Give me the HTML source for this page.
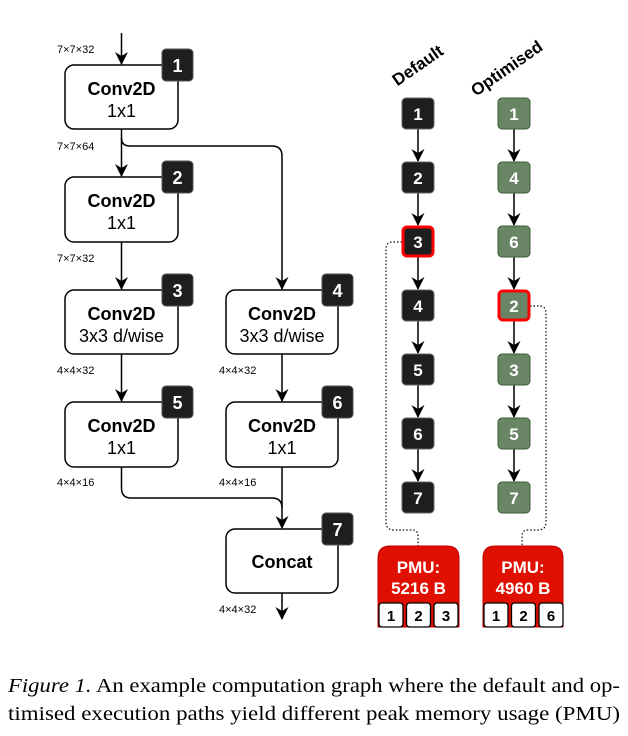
<!DOCTYPE html>
<html><head><meta charset="utf-8"><style>
html,body{margin:0;padding:0;background:#fff;width:628px;height:736px;overflow:hidden}
svg{display:block}
.h{font-family:"Liberation Sans",Arial,sans-serif}
</style></head><body>
<svg width="628" height="736" viewBox="0 0 628 736" xmlns="http://www.w3.org/2000/svg">
<defs>
<marker id="a" markerWidth="14" markerHeight="14" refX="12" refY="6.5" orient="auto" markerUnits="userSpaceOnUse">
<path d="M0,0 L13,6.5 L0,13 L4,6.5 Z" fill="#000"/></marker>
</defs>
<g fill="none" stroke="#000" stroke-width="1.5">
<path d="M121.5,33 V64" marker-end="url(#a)"/>
<path d="M121.5,129 V176" marker-end="url(#a)"/>
<path d="M121.5,138 Q121.5,146 130,146 H272 Q282,146 282,156 V289" marker-end="url(#a)"/>
<path d="M121.5,242 V289" marker-end="url(#a)"/>
<path d="M121.5,354 V401" marker-end="url(#a)"/>
<path d="M282,354 V401" marker-end="url(#a)"/>
<path d="M121.5,467 V488 Q121.5,498 131,498 H272 Q282,498 282,508"/>
<path d="M282,467 V528" marker-end="url(#a)"/>
<path d="M282,593 V619" marker-end="url(#a)"/>
<path d="M418,129 V161" marker-end="url(#a)"/>
<path d="M418,193 V225" marker-end="url(#a)"/>
<path d="M418,257 V289" marker-end="url(#a)"/>
<path d="M418,321 V353" marker-end="url(#a)"/>
<path d="M418,385 V417" marker-end="url(#a)"/>
<path d="M418,449 V481" marker-end="url(#a)"/>
<path d="M514,129 V161" marker-end="url(#a)"/>
<path d="M514,193 V225" marker-end="url(#a)"/>
<path d="M514,257 V289" marker-end="url(#a)"/>
<path d="M514,321 V353" marker-end="url(#a)"/>
<path d="M514,385 V417" marker-end="url(#a)"/>
<path d="M514,449 V481" marker-end="url(#a)"/>
</g>
<g fill="none" stroke="#000" stroke-width="1.2" stroke-dasharray="1.5,2">
<path d="M402,242 H392 Q386,242 386,250 V522 Q386,530 394,530 H412 Q418,530 418,536 V546"/>
<path d="M530,306 H540 Q546,306 546,314 V522 Q546,530 538,530 H528 Q522,530 522,536 V546"/>
</g>
<g fill="#fff" stroke="#000" stroke-width="1.5">
<rect x="65" y="65" width="113" height="64" rx="9"/>
<rect x="65" y="177" width="113" height="65" rx="9"/>
<rect x="65" y="290" width="113" height="64" rx="9"/>
<rect x="65" y="402" width="113" height="65" rx="9"/>
<rect x="226" y="290" width="112" height="64" rx="9"/>
<rect x="226" y="402" width="112" height="65" rx="9"/>
<rect x="226" y="529" width="112" height="64" rx="9"/>
</g>
<g fill="#1e1e1e" stroke="#555" stroke-width="1">
<rect x="162" y="49" width="31" height="32" rx="4"/>
<rect x="162" y="161" width="31" height="32" rx="4"/>
<rect x="162" y="274" width="31" height="32" rx="4"/>
<rect x="162" y="386" width="31" height="32" rx="4"/>
<rect x="322" y="274" width="31" height="32" rx="4"/>
<rect x="322" y="386" width="31" height="32" rx="4"/>
<rect x="322" y="513" width="31" height="32" rx="4"/>
</g>
<g class="h" fill="#fff" font-size="18" font-weight="bold" text-anchor="middle">
<text x="177.5" y="72">1</text><text x="177.5" y="184">2</text><text x="177.5" y="297">3</text>
<text x="177.5" y="409">5</text><text x="337.5" y="297">4</text><text x="337.5" y="409">6</text><text x="337.5" y="536">7</text>
</g>
<g class="h" fill="#000" font-size="18" text-anchor="middle">
<text x="121.5" y="95" font-weight="bold">Conv2D</text><text x="121.5" y="117">1x1</text>
<text x="121.5" y="207" font-weight="bold">Conv2D</text><text x="121.5" y="229">1x1</text>
<text x="121.5" y="320" font-weight="bold">Conv2D</text><text x="121.5" y="342">3x3 d/wise</text>
<text x="121.5" y="432" font-weight="bold">Conv2D</text><text x="121.5" y="454">1x1</text>
<text x="282" y="320" font-weight="bold">Conv2D</text><text x="282" y="342">3x3 d/wise</text>
<text x="282" y="432" font-weight="bold">Conv2D</text><text x="282" y="454">1x1</text>
<text x="282" y="568" font-weight="bold">Concat</text>
</g>
<g class="h" fill="#000" font-size="11">
<text x="57" y="53">7×7×32</text><text x="57" y="150">7×7×64</text><text x="57" y="262">7×7×32</text>
<text x="57" y="374">4×4×32</text><text x="57" y="486">4×4×16</text>
<text x="219" y="374">4×4×32</text><text x="219" y="486">4×4×16</text><text x="219" y="613">4×4×32</text>
</g>
<g class="h" font-size="17" font-weight="bold" fill="#000" text-anchor="middle">
<text transform="translate(421,70) rotate(-35)">Default</text>
<text transform="translate(510,73) rotate(-35)">Optimised</text>
</g>
<g fill="#1e1e1e" stroke="#666" stroke-width="1">
<rect x="402" y="98" width="32" height="31" rx="4"/>
<rect x="402" y="162" width="32" height="31" rx="4"/>
<rect x="402" y="290" width="32" height="31" rx="4"/>
<rect x="402" y="354" width="32" height="31" rx="4"/>
<rect x="402" y="418" width="32" height="31" rx="4"/>
<rect x="402" y="482" width="32" height="31" rx="4"/>
</g>
<rect x="403" y="227" width="30" height="29" rx="4" fill="#1e1e1e" stroke="#f00" stroke-width="3"/>
<g fill="#6a8566" stroke="#3e5a3a" stroke-width="1">
<rect x="498" y="98" width="32" height="31" rx="4"/>
<rect x="498" y="162" width="32" height="31" rx="4"/>
<rect x="498" y="226" width="32" height="31" rx="4"/>
<rect x="498" y="354" width="32" height="31" rx="4"/>
<rect x="498" y="418" width="32" height="31" rx="4"/>
<rect x="498" y="482" width="32" height="31" rx="4"/>
</g>
<rect x="499" y="291" width="30" height="29" rx="4" fill="#6a8566" stroke="#f00" stroke-width="3"/>
<g class="h" fill="#fff" font-size="17" font-weight="bold" text-anchor="middle">
<text x="418" y="120">1</text><text x="418" y="184">2</text><text x="418" y="248">3</text><text x="418" y="312">4</text>
<text x="418" y="376">5</text><text x="418" y="440">6</text><text x="418" y="504">7</text>
<text x="514" y="120">1</text><text x="514" y="184">4</text><text x="514" y="248">6</text><text x="514" y="312">2</text>
<text x="514" y="376">3</text><text x="514" y="440">5</text><text x="514" y="504">7</text>
</g>
<g fill="#e01000" stroke="#b00" stroke-width="1">
<path d="M378,627 V558 Q378,546 390,546 H447 Q459,546 459,558 V627 Z"/>
<path d="M483,627 V558 Q483,546 495,546 H551 Q563,546 563,558 V627 Z"/>
</g>
<g class="h" fill="#fff" font-size="17" font-weight="bold" text-anchor="middle">
<text x="418.5" y="573">PMU:</text><text x="418.5" y="594">5216 B</text>
<text x="523" y="573">PMU:</text><text x="523" y="594">4960 B</text>
</g>
<g fill="#fff" stroke="#000" stroke-width="1.3">
<rect x="379" y="603" width="24" height="24" rx="3"/><rect x="406.5" y="603" width="24" height="24" rx="3"/><rect x="434" y="603" width="24" height="24" rx="3"/>
<rect x="484" y="603" width="24" height="24" rx="3"/><rect x="511.5" y="603" width="24" height="24" rx="3"/><rect x="539" y="603" width="24" height="24" rx="3"/>
</g>
<g class="h" fill="#000" font-size="15" font-weight="bold" text-anchor="middle">
<text x="391" y="621">1</text><text x="418.5" y="621">2</text><text x="446" y="621">3</text>
<text x="496" y="621">1</text><text x="523.5" y="621">2</text><text x="551" y="621">6</text>
</g>
<g font-family="'Liberation Serif',serif" font-size="20" fill="#000">
<text x="8" y="692" textLength="612" lengthAdjust="spacingAndGlyphs"><tspan font-style="italic">Figure 1.</tspan> An example computation graph where the default and op-</text>
<text x="8" y="720" textLength="612" lengthAdjust="spacingAndGlyphs">timised execution paths yield different peak memory usage (PMU)</text>
</g>
</svg>
</body></html>
